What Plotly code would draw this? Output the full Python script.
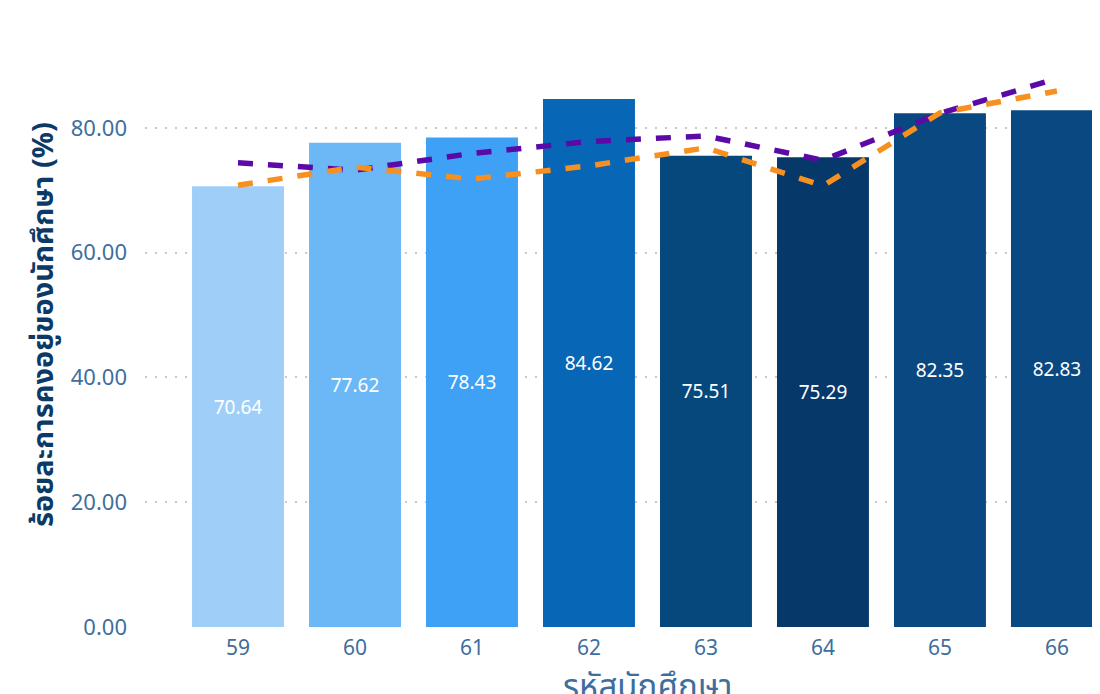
import plotly.graph_objects as go

categories = ["59", "60", "61", "62", "63", "64", "65", "66"]
retention = [70.64, 77.62, 78.43, 84.62, 75.51, 75.29, 82.35, 82.83]
bar_colors = ["#9fcff8", "#6cb8f7", "#3ea1f5", "#0767b6", "#06487b", "#07386a", "#0a4882", "#0a4882"]
line_purple = [74.4, 73.2, 75.9, 77.8, 78.7, 74.8, 82.3, 87.9]
line_orange = [70.8, 73.7, 71.8, 73.9, 76.8, 70.7, 82.4, 85.9]
y_ticks = [0, 20, 40, 60, 80]

W, H = 1100, 694
OFF = 8  # page offset of the plot div
L, R, T, B = 137, 8, 15, 75
pw, ph = W - L - R, H - T - B
PX0, PY1 = OFF + L, OFF + T + ph  # pixel x of plot left, pixel y of plot bottom

FONT = "Segoe UI, Noto Sans, Noto Sans Thai, sans-serif"

fig = go.Figure()
fig.add_trace(go.Bar(
    x=list(range(len(categories))), y=retention,
    marker=dict(color=bar_colors, line=dict(width=0)),
    width=0.786,
    text=[f"{v:.2f}" for v in retention],
    textposition="inside", insidetextanchor="middle",
    textfont=dict(color="white", size=19, family=FONT),
    showlegend=False, hoverinfo="skip",
))
fig.add_trace(go.Scatter(
    x=list(range(len(categories))), y=line_purple, mode="lines",
    line=dict(color="#5b0aa8", width=5.5, dash="15px,15px"),
    showlegend=False, hoverinfo="skip",
))
fig.add_trace(go.Scatter(
    x=list(range(len(categories))), y=line_orange, mode="lines",
    line=dict(color="#f7901f", width=5.5, dash="15px,15px"),
    showlegend=False, hoverinfo="skip",
))

fig.update_layout(
    width=W, height=H,
    margin=dict(l=L, r=R, t=T, b=B, pad=0),
    plot_bgcolor="white", paper_bgcolor="white",
    font=dict(family=FONT, color="#3e6e9e"),
    xaxis=dict(
        tickmode="array", tickvals=list(range(len(categories))), ticktext=categories,
        range=[-0.795, 7.368], showgrid=False, zeroline=False, showline=False,
        tickfont=dict(size=21, color="#3e6e9e", family=FONT),
        ticklabelstandoff=6,
    ),
    yaxis=dict(
        range=[0, 96.8], tickvals=y_ticks, tickformat=".2f",
        showgrid=True, gridcolor="#c8c8c8", gridwidth=2, griddash="2px,8px",
        zeroline=False, showline=False,
        tickfont=dict(size=22, color="#3e6e9e", family=FONT),
        ticklabelstandoff=17,
    ),
    annotations=[
        dict(text="<b>ร้อยละการคงอยู่ของนักศึกษา (%)</b>", textangle=-90,
             xref="paper", yref="paper", x=(41 - PX0) / pw, y=(PY1 - 325) / ph,
             xanchor="center", yanchor="middle", showarrow=False,
             font=dict(size=29, color="#0b3a66", family=FONT)),
        dict(text="รหัสนักศึกษา",
             xref="paper", yref="paper", x=(647 - PX0) / pw, y=(PY1 - 686) / ph,
             xanchor="center", yanchor="middle", showarrow=False,
             font=dict(size=33, color="#3e6e9e", family=FONT)),
    ],
    shapes=[
        dict(type="line", xref="paper", yref="paper",
             x0=(3 - PX0) / pw, x1=(3 - PX0) / pw,
             y0=(PY1 - 57) / ph, y1=(PY1 - 616) / ph,
             line=dict(color="#c8c8c8", width=2, dash="2px,77px")),
    ],
)

fig.write_html("out.html")
